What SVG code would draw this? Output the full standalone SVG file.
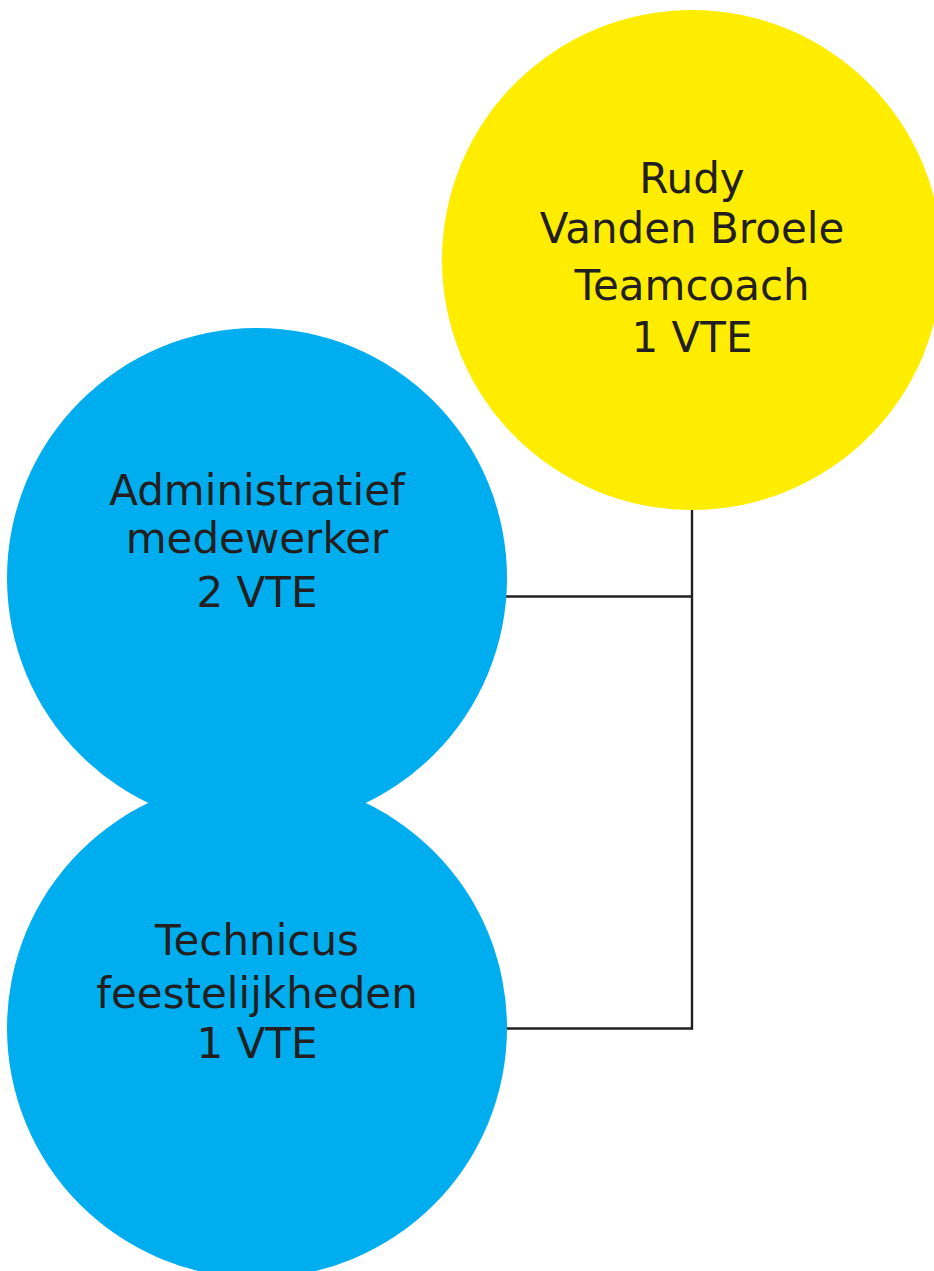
<svg xmlns="http://www.w3.org/2000/svg" width="934" height="1271" viewBox="0 0 934 1271">
<style>
.t{font-family:"DejaVu Sans","Liberation Sans",sans-serif;font-size:42px;fill:#231f20;text-anchor:middle}
.c{fill:none;stroke:#231f20;stroke-width:2.4}
</style>
<rect width="934" height="1271" fill="#fff"/>
<g id="connectors">
<line class="c" x1="692" y1="509" x2="692" y2="1029.5"/>
<line class="c" x1="505" y1="596.5" x2="692" y2="596.5"/>
<line class="c" x1="505" y1="1028.5" x2="693" y2="1028.5"/>
</g>
<g id="node-teamcoach">
<circle cx="692" cy="260" r="250" fill="#ffed00"/>
<text class="t" x="692" y="193">Rudy</text>
<text class="t" x="692" y="243">Vanden Broele</text>
<text class="t" x="692" y="300">Teamcoach</text>
<text class="t" x="692" y="352">1 VTE</text>
</g>
<g id="node-admin">
<circle cx="257" cy="578" r="250" fill="#00aeef"/>
<text class="t" x="257" y="505">Administratief</text>
<text class="t" x="257" y="553">medewerker</text>
<text class="t" x="257" y="607">2 VTE</text>
</g>
<g id="node-technicus">
<circle cx="257" cy="1028" r="250" fill="#00aeef"/>
<text class="t" x="257" y="955">Technicus</text>
<text class="t" x="257" y="1008">feestelijkheden</text>
<text class="t" x="257" y="1058">1 VTE</text>
</g>
</svg>
